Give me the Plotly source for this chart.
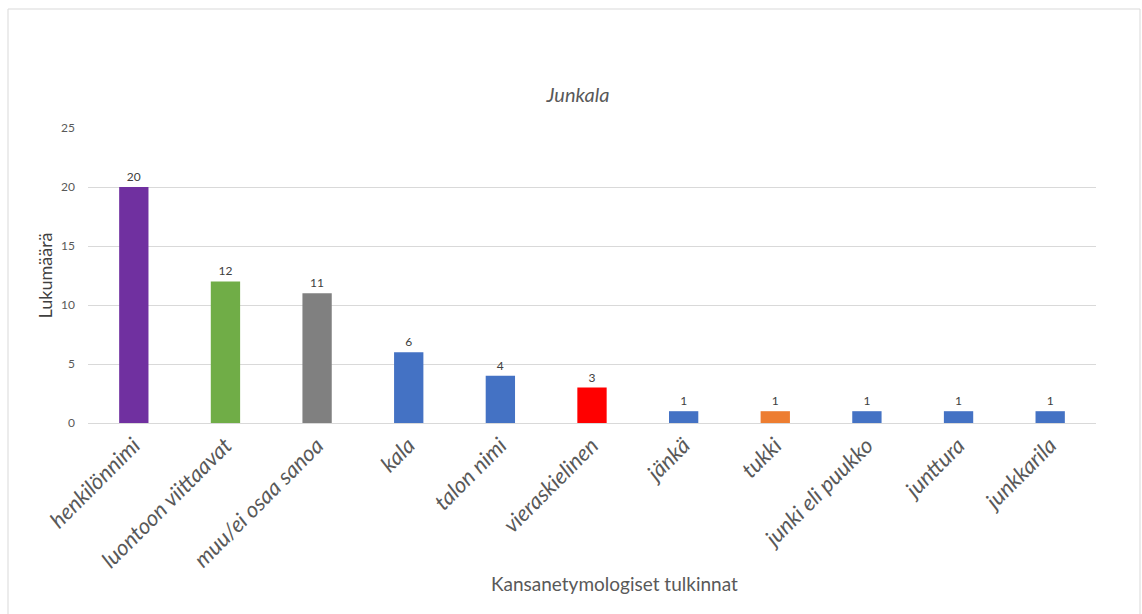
import plotly.graph_objects as go

categories = ["henkilönnimi", "luontoon viittaavat", "muu/ei osaa sanoa", "kala", "talon nimi",
              "vieraskielinen", "jänkä", "tukki", "junki eli puukko", "junttura", "junkkarila"]
values = [20, 12, 11, 6, 4, 3, 1, 1, 1, 1, 1]
colors = ["#7030A0", "#70AD47", "#808080", "#4472C4", "#4472C4", "#FF0000",
          "#4472C4", "#ED7D31", "#4472C4", "#4472C4", "#4472C4"]
y_ticks = [0, 5, 10, 15, 20, 25]

FONT = "Lato"
fig = go.Figure(go.Bar(
    x=categories, y=values, marker=dict(color=colors, line=dict(width=0)),
    text=[str(v) for v in values], textposition="outside", cliponaxis=False,
    textfont=dict(family=FONT, size=12, color="#404040"),
))

L, R, T, B = 88, 46, 128, 191
W, H = 1142, 614
pw, ph = W - L - R, H - T - B


def px_x(x):
    return (x - L) / pw


def px_y(y):
    return (H - B - y) / ph


fig.update_layout(
    width=W, height=H, margin=dict(l=L, r=R, t=T, b=B),
    paper_bgcolor="white", plot_bgcolor="white",
    bargap=0.68, showlegend=False,
    title=dict(text="<i>Junkala</i>", x=578 / W, xanchor="center",
               y=1 - 95 / H, yanchor="middle",
               font=dict(family=FONT, size=20, color="#595959")),
    xaxis=dict(tickangle=-45, showgrid=False, showline=True, linecolor="#D9D9D9",
               ticks="", tickfont=dict(family=FONT, size=22, color="#595959", style="italic")),
    yaxis=dict(range=[0, 25], tickvals=y_ticks, showgrid=True, gridcolor="#D9D9D9",
               zeroline=False, ticks="", ticklabelstandoff=12,
               tickfont=dict(family=FONT, size=12, color="#595959"),
               title=dict(text="Lukumäärä", standoff=3,
                          font=dict(family=FONT, size=18, color="#404040"))),
    annotations=[dict(text="Kansanetymologiset tulkinnat", xref="paper", yref="paper",
                      x=px_x(614), y=px_y(583), xanchor="center", yanchor="middle",
                      showarrow=False, font=dict(family=FONT, size=19, color="#595959"))],
    shapes=[dict(type="rect", xref="paper", yref="paper",
                 x0=px_x(8), x1=px_x(1140), y0=px_y(650), y1=px_y(9),
                 line=dict(color="#D9D9D9", width=1), fillcolor="rgba(0,0,0,0)", layer="below")],
)
fig.write_html("out.html")
